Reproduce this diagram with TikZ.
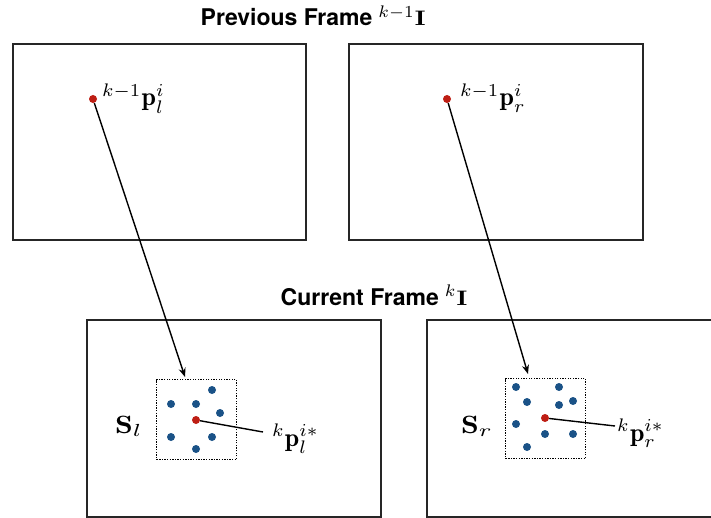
\documentclass[tikz,border=0pt]{standalone}
\usepackage{graphicx}
\usepackage{fontspec}
\setsansfont{TeX Gyre Heros}
\usetikzlibrary{arrows.meta}
\definecolor{dotred}{HTML}{BE1E14}
\definecolor{dotblue}{HTML}{1A5287}
\newcommand{\scmath}[2]{\scalebox{#1}{\normalsize$#2$}}
\newcommand{\scmathxy}[3]{\scalebox{#1}[#2]{\normalsize$#3$}}
\begin{document}
\begin{tikzpicture}[x=1pt,y=-1pt,
  frame/.style={draw=black!85,line width=1.8pt},
  searchbox/.style={draw=black,line width=1.3pt,dash pattern=on 1.3pt off 1.3pt},
  rdot/.style={circle,fill=dotred,inner sep=0pt,minimum size=8pt},
  bdot/.style={circle,fill=dotblue,inner sep=0pt,minimum size=8pt},
  lbl/.style={inner sep=0pt},
  ttl/.style={inner sep=0pt,font=\fontsize{23}{27}\selectfont\sffamily\bfseries},
  conn/.style={draw=black,line width=1.4pt},
  arr/.style={conn,-{Stealth[length=9pt,width=7pt]}}]
\useasboundingbox (0,0) rectangle (711,518);
\begin{scope}
\clip (0,0) rectangle (711,518);
% frames
\node[frame,minimum width=293pt,minimum height=196pt,anchor=north west] (fPL) at (12,43) {};
\node[frame,minimum width=294pt,minimum height=196pt,anchor=north west] (fPR) at (348,43) {};
\node[frame,minimum width=294pt,minimum height=197pt,anchor=north west] (fCL) at (86,319) {};
\node[frame,minimum width=294pt,minimum height=197pt,anchor=north west] (fCR) at (426,319) {};
\end{scope}
% titles
\node[ttl,anchor=base west] (tP) at (200.5,26) {Previous Frame\hspace{6pt}\scmath{2.4}{{}^{k-1}}\scmathxy{2.7}{2.1}{\mathbf{I}}};
\node[ttl,anchor=base west] (tC) at (280.5,305) {Current Frame\hspace{6pt}\scmath{2.4}{{}^{k}}\scmathxy{2.7}{2.1}{\mathbf{I}}};
% previous frame points
\node[rdot] (pl) at (93,99) {};
\node[rdot] (pr) at (447,99) {};
\node[lbl,anchor=base west] (lpl) at (102,106) {\scmath{2.6}{^{k-1}\mathbf{p}_l^i}};
\node[lbl,anchor=base west] (lpr) at (460,106) {\scmath{2.6}{^{k-1}\mathbf{p}_r^i}};
% search windows
\node[searchbox,minimum width=80pt,minimum height=80pt,anchor=north west] (sL) at (156,379) {};
\node[searchbox,minimum width=80pt,minimum height=80pt,anchor=north west] (sR) at (505,378) {};
% left window dots
\node[bdot] (l1) at (212,390) {};
\node[bdot] (l2) at (171,404) {};
\node[bdot] (l3) at (196,404) {};
\node[bdot] (l4) at (220,413) {};
\node[bdot] (l5) at (171,437) {};
\node[bdot] (l6) at (212,437) {};
\node[bdot] (l7) at (196,449) {};
\node[rdot] (lc) at (196,420) {};
% right window dots
\node[bdot] (r1) at (516,387) {};
\node[bdot] (r2) at (559,387) {};
\node[bdot] (r3) at (527,402) {};
\node[bdot] (r4) at (559,405) {};
\node[bdot] (r5) at (573,401) {};
\node[bdot] (r6) at (516,424) {};
\node[bdot] (r7) at (545,434) {};
\node[bdot] (r8) at (573,434) {};
\node[bdot] (r9) at (527,447) {};
\node[rdot] (rc) at (545,418) {};
% labels
\node[lbl,anchor=base west] (Sl) at (115,433) {\scmathxy{3.2}{2.5}{\mathbf{S}_l}};
\node[lbl,anchor=base west] (Sr) at (461,433) {\scmathxy{3.2}{2.5}{\mathbf{S}_r}};
\node[lbl,anchor=base west] (lcl) at (272,446) {\scmath{2.6}{^{k}\mathbf{p}_l^{i*}}};
\node[lbl,anchor=base west] (lcr) at (617,441) {\scmath{2.6}{^{k}\mathbf{p}_r^{i*}}};
% connectors
\coordinate (al) at (185,377);
\coordinate (ar) at (528,374);
\coordinate (el) at (263,432);
\coordinate (er) at (615,426);
\draw[arr] (pl) -- (al);
\draw[arr] (pr) -- (ar);
\draw[conn] (lc) -- (el);
\draw[conn] (rc) -- (er);
\end{tikzpicture}
\end{document}
